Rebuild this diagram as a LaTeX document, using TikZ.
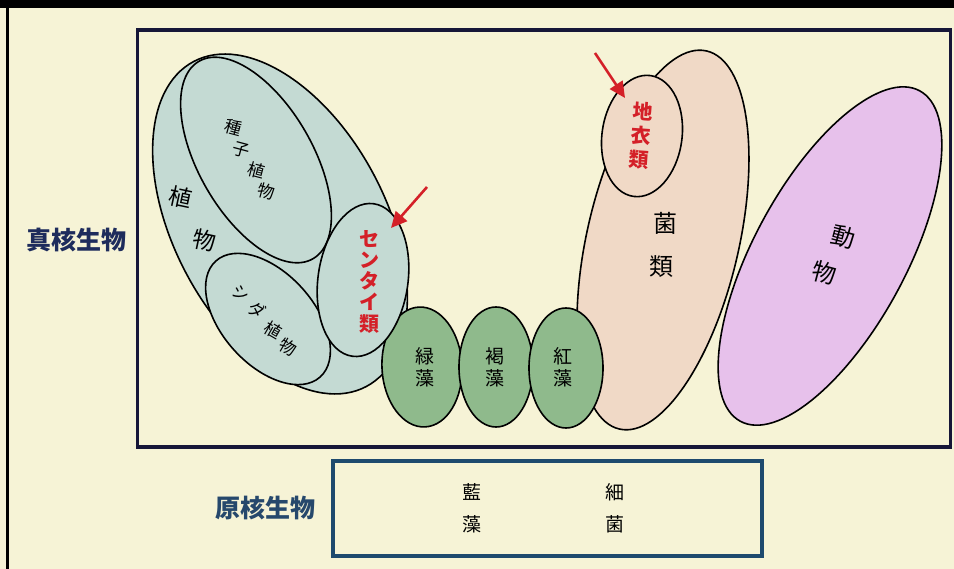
\documentclass[tikz,border=0pt]{standalone}
\usepackage{fontspec}
\newfontfamily\jp{Noto Sans CJK JP}
\usetikzlibrary{arrows.meta}
\definecolor{cream}{RGB}{246,243,214}
\definecolor{frame}{RGB}{22,22,56}
\definecolor{plantfill}{RGB}{196,218,211}
\definecolor{algae}{RGB}{143,186,140}
\definecolor{fungi}{RGB}{240,217,198}
\definecolor{animal}{RGB}{231,193,235}
\definecolor{redtxt}{RGB}{212,32,40}
\definecolor{navytxt}{RGB}{30,44,92}
\definecolor{protxt}{RGB}{38,72,108}
\definecolor{probox}{RGB}{30,74,110}
\tikzset{
  blob/.style={draw=black, line width=1.6pt},
  jtxt/.style={font=\jp, inner sep=0pt, text=black},
  redlab/.style={font=\jp\bfseries\fontsize{20}{22}\selectfont, text=redtxt, inner sep=0pt, align=center},
  redarrow/.style={draw=redtxt, line width=2.6pt, -{Triangle[length=16pt,width=15pt]}},
}
\begin{document}
\begin{tikzpicture}[x=1pt,y=1pt]
\useasboundingbox (0,0) rectangle (954,-569);
\fill[cream] (0,0) rectangle (954,-569);
\fill[black] (0,0) rectangle (954,-8);
\fill[black] (5.5,0) rectangle (8.5,-569);

% main frame
\draw[frame, line width=3.5pt] (137.5,-30) rectangle (950.5,-447);

% plants
\coordinate (plantC) at (280,-224);
\coordinate (seedC) at (256,-160);
\coordinate (fernC) at (268,-319);
\coordinate (centC) at (363,-280);
\draw[blob, fill=plantfill, rotate around={-62:(plantC)}] (plantC) ellipse [x radius=184, y radius=106];
\draw[blob, fill=plantfill, rotate around={-60:(seedC)}] (seedC) ellipse [x radius=114, y radius=57];
\draw[blob, fill=plantfill, rotate around={-48:(fernC)}] (fernC) ellipse [x radius=78, y radius=46];

% fungi, lichen, animals
\coordinate (fungC) at (663,-240);
\coordinate (lichC) at (642,-136);
\coordinate (animC) at (830,-256);
\draw[blob, fill=fungi, rotate around={-13:(fungC)}] (fungC) ellipse [x radius=76, y radius=194];
\draw[blob, fill=fungi, rotate around={-8:(lichC)}] (lichC) ellipse [x radius=40, y radius=61];
\draw[blob, fill=animal, rotate around={61.5:(animC)}] (animC) ellipse [x radius=188, y radius=76];

% algae
\coordinate (greenC) at (422,-367);
\coordinate (brownC) at (496,-367);
\coordinate (redC) at (566,-368);
\draw[blob, fill=algae, rotate around={3:(greenC)}] (greenC) ellipse [x radius=40, y radius=60];
\draw[blob, fill=algae] (brownC) ellipse [x radius=37, y radius=60];
\draw[blob, fill=algae] (redC) ellipse [x radius=37, y radius=60];

% mosses on top
\draw[blob, fill=plantfill, rotate around={-8:(centC)}] (centC) ellipse [x radius=45, y radius=77];

% labels: plants
\node[jtxt, font=\jp\fontsize{23}{23}\selectfont, rotate=-12] (pl1) at (181,-197) {植};
\node[jtxt, font=\jp\fontsize{23}{23}\selectfont, rotate=-12] (pl2) at (205,-240) {物};
\node[jtxt, font=\jp\fontsize{17}{17}\selectfont, rotate=-15] (sd1) at (233,-128) {種};
\node[jtxt, font=\jp\fontsize{17}{17}\selectfont, rotate=-15] (sd2) at (241,-150) {子};
\node[jtxt, font=\jp\fontsize{17}{17}\selectfont, rotate=-15] (sd3) at (256,-170) {植};
\node[jtxt, font=\jp\fontsize{17}{17}\selectfont, rotate=-15] (sd4) at (266,-191) {物};
\node[jtxt, font=\jp\fontsize{17}{17}\selectfont, rotate=-30] (fn1) at (241,-293) {シ};
\node[jtxt, font=\jp\fontsize{17}{17}\selectfont, rotate=-30] (fn2) at (257,-310) {ダ};
\node[jtxt, font=\jp\fontsize{17}{17}\selectfont, rotate=-30] (fn3) at (273,-330) {植};
\node[jtxt, font=\jp\fontsize{17}{17}\selectfont, rotate=-30] (fn4) at (288,-347) {物};
\node[redlab] (moss) at (369,-282) {セ\\[-1pt]ン\\[-1pt]タ\\[-1pt]イ\\[0pt]類};

% labels: algae
\node[jtxt, font=\jp\fontsize{19}{22}\selectfont, align=center] (green) at (425,-367) {緑\\藻};
\node[jtxt, font=\jp\fontsize{19}{22}\selectfont, align=center] (brown) at (495,-367) {褐\\藻};
\node[jtxt, font=\jp\fontsize{19}{22}\selectfont, align=center] (redalg) at (563,-367) {紅\\藻};

% labels: fungi, lichen, animals
\node[redlab, rotate=-4] (lichen) at (641,-136) {地\\[2pt]衣\\[2pt]類};
\node[jtxt, font=\jp\fontsize{24}{24}\selectfont] (fu1) at (665,-223) {菌};
\node[jtxt, font=\jp\fontsize{24}{24}\selectfont] (fu2) at (661,-267) {類};
\node[jtxt, font=\jp\fontsize{24}{24}\selectfont, rotate=-15] (an1) at (843,-237) {動};
\node[jtxt, font=\jp\fontsize{24}{24}\selectfont, rotate=-15] (an2) at (824,-273) {物};

% arrows
\coordinate (ar1s) at (427,-187);
\coordinate (ar1e) at (391,-228);
\coordinate (ar2s) at (595,-53);
\coordinate (ar2e) at (625,-98);
\draw[redarrow] (ar1s) -- (ar1e);
\draw[redarrow] (ar2s) -- (ar2e);

% side labels
\node[font=\jp\bfseries\fontsize{25}{25}\selectfont, text=navytxt, inner sep=0pt] (euk) at (77,-240) {真核生物};
\node[font=\jp\bfseries\fontsize{25}{25}\selectfont, text=protxt, inner sep=0pt] (prok) at (265,-508) {原核生物};

% prokaryote box
\draw[probox, line width=3.5pt] (333,-461) rectangle (762,-556);
\node[jtxt, font=\jp\fontsize{19}{32}\selectfont, align=center] (cyano) at (472,-508) {藍\\藻};
\node[jtxt, font=\jp\fontsize{19}{32}\selectfont, align=center] (bact) at (615,-508) {細\\菌};
\end{tikzpicture}
\end{document}
